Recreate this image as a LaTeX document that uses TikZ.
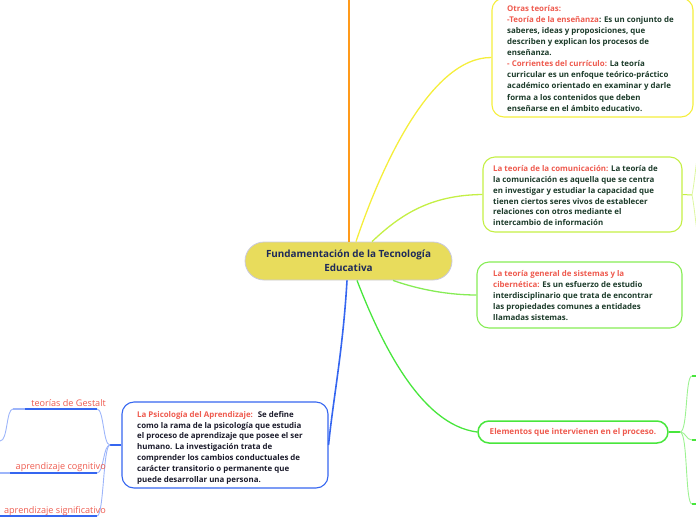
\documentclass[tikz,border=0pt]{standalone}
\usepackage{fontspec}
\setmainfont{Open Sans}
\definecolor{lab}{HTML}{EE5A4E}
\definecolor{bodyg}{HTML}{1C3B2A}
\definecolor{bodyk}{HTML}{1A1A2A}
\definecolor{ctext}{HTML}{1E2A5A}
\definecolor{cfill}{HTML}{E8DC5C}
\definecolor{cbord}{HTML}{C9C9DF}
\definecolor{corange}{HTML}{FF9A1A}
\definecolor{cyel}{HTML}{F5EE3C}
\definecolor{clime}{HTML}{C4EF45}
\definecolor{cgreen2}{HTML}{86EC55}
\definecolor{cgreen}{HTML}{48E63C}
\definecolor{cgreenl}{HTML}{9CF291}
\definecolor{cblue}{HTML}{3566F0}
\definecolor{cbluel}{HTML}{9DB5FA}
\definecolor{climel}{HTML}{DDF7A0}
\tikzset{
  bx/.style={rounded corners=12pt, line width=1.1pt, inner sep=0pt},
  body/.style={anchor=north west, inner sep=0pt, align=left, font=\bfseries\fontsize{7.9}{11.1}\selectfont, text=bodyg},
  lbl/.style={anchor=base east, inner sep=0pt, font=\fontsize{9.1}{10}\selectfont, text=lab},
  conn/.style={line width=1.3pt},
}
\begin{document}
\begin{tikzpicture}[x=1pt,y=-1pt]
\useasboundingbox (0,0) rectangle (696,520);
\clip (0,0) rectangle (696,520);

% central
\node[draw=cbord, fill=cfill, rounded corners=19pt, minimum width=207pt, minimum height=38pt, line width=0.8pt, align=center, inner sep=0pt, font=\bfseries\fontsize{9.9}{14}\selectfont, text=ctext] (central) at (348.5,261) {Fundamentación de la Tecnología\\Educativa};

% boxes
\node[bx, draw=cyel, minimum width=201pt, minimum height=119pt] (otras) at (592.5,57.5) {};
\node[bx, draw=clime, minimum width=199pt, minimum height=75pt] (comu) at (582.5,194.5) {};
\node[bx, draw=cgreen2, minimum width=205pt, minimum height=66pt] (sist) at (579.5,295) {};
\node[bx, draw=cgreen, rounded corners=11pt, minimum width=190pt, minimum height=22pt, line width=1.5pt, font=\bfseries\fontsize{8.1}{9}\selectfont, text=lab] (elem) at (573,432) {Elementos que intervienen en el proceso.};
\node[bx, draw=cblue, minimum width=206pt, minimum height=86pt] (psy) at (225,445) {};

% texts
\node[body] (otrasT) at (507,5) {\textcolor{lab}{Otras teorías:}\\
\textcolor{lab}{-Teoría de la enseñanza}: Es un conjunto de\\
saberes, ideas y proposiciones, que\\
describen y explican los procesos de\\
enseñanza.\\
\textcolor{lab}{- Corrientes del currículo:} La teoría\\
curricular es un enfoque teórico-práctico\\
académico orientado en examinar y darle\\
forma a los contenidos que deben\\
enseñarse en el ámbito educativo.};

\node[body, font=\bfseries\fontsize{7.9}{10.8}\selectfont] (comuT) at (493,165.5) {\textcolor{lab}{La teoría de la comunicación:} La teoría de\\
la comunicación es aquella que se centra\\
en investigar y estudiar la capacidad que\\
tienen ciertos seres vivos de establecer\\
relaciones con otros mediante el\\
intercambio de información};

\node[body, font=\bfseries\fontsize{7.9}{11}\selectfont] (sistT) at (493,270.5) {\textcolor{lab}{La teoría general de sistemas y la}\\
\textcolor{lab}{cibernética:} Es un esfuerzo de estudio\\
interdisciplinario que trata de encontrar\\
las propiedades comunes a entidades\\
llamadas sistemas.};

\node[body, text=bodyk, font=\bfseries\fontsize{7.9}{10.83}\selectfont] (psyT) at (137,411) {\textcolor{lab}{La Psicología del Aprendizaje:}~ Se define\\
como la rama de la psicología que estudia\\
el proceso de aprendizaje que posee el ser\\
humano. La investigación trata de\\
comprender los cambios conductuales de\\
carácter transitorio o permanente que\\
puede desarrollar una persona.};

% main connectors
\coordinate (otop) at (349,0);
\draw[corange, line width=2.2pt] ([xshift=0.5pt]central.north) -- (otop);
\draw[cyel, conn] ([xshift=7.5pt]central.north) .. controls (380,170) and (430,57) .. (otras.west);
\draw[clime, conn] ([xshift=23.5pt]central.north) .. controls (400,215) and (430,195) .. (comu.west);
\draw[cgreen2, conn] ([xshift=44.5pt]central.south) .. controls (420,290) and (450,295) .. (sist.west);
\draw[cgreen, conn] ([xshift=8.5pt]central.south) .. controls (380,340) and (420,425) .. (elem.west);
\draw[cblue, line width=1.6pt] ([xshift=-1.5pt]central.south) .. controls (343,350) and (333,400) .. (psy.east);

% right side of comunicacion
\coordinate (cj) at (692,195);
\coordinate (cu) at (700,140);
\coordinate (cd) at (700,250);
\draw[clime, line width=1pt] (comu.east) -- (cj);
\draw[climel, line width=0.8pt] (cj) .. controls (695,180) and (696,160) .. (cu);
\draw[climel, line width=0.8pt] (cj) .. controls (695,210) and (696,230) .. (cd);

% right side of elementos
\coordinate (ej) at (680,432);
\coordinate (e1) at (692,376);
\coordinate (e2) at (692,440);
\coordinate (e3) at (692,504);
\coordinate (e1b) at (697,376);
\coordinate (e2b) at (697,440);
\coordinate (e3b) at (697,504);
\draw[cgreen, line width=1.5pt] (elem.east) -- (ej);
\draw[cgreenl, line width=0.9pt] (ej) .. controls (688,432) and (685,376) .. (e1);
\draw[cgreenl, line width=0.9pt] (ej) .. controls (686,432) and (686,440) .. (e2);
\draw[cgreenl, line width=0.9pt] (ej) .. controls (688,432) and (685,504) .. (e3);
\draw[cgreen, line width=1.6pt] (e1) -- (e1b);
\draw[cgreen, line width=1.6pt] (e2) -- (e2b);
\draw[cgreen, line width=1.6pt] (e3) -- (e3b);

% left side of psicologia
\coordinate (pj) at (110,445);
\coordinate (g1) at (97,409);
\coordinate (g2) at (25,409);
\coordinate (g3) at (13,409);
\coordinate (g4) at (0,441);
\coordinate (k1) at (97,473);
\coordinate (k2) at (10,473);
\coordinate (k3) at (0,473);
\coordinate (s1) at (97,516);
\coordinate (s2) at (0,516);
\draw[cblue, line width=1.2pt] (psy.west) -- (pj);
\draw[cbluel, line width=0.9pt] (pj) .. controls (103,445) and (104,409) .. (g1);
\draw[cbluel, line width=0.9pt] (pj) .. controls (103,445) and (104,473) .. (k1);
\draw[cbluel, line width=0.9pt] (pj) .. controls (103,445) and (104,516) .. (s1);
\draw[cblue, line width=1.6pt] (g1) -- (g2);
\draw[cbluel, line width=1.6pt] (g2) -- (g3);
\draw[cbluel, line width=0.9pt] (g3) .. controls (6,409) and (8,441) .. (g4);
\draw[cblue, line width=1.6pt] (k1) -- (k2);
\draw[cbluel, line width=1.6pt] (k2) -- (k3);
\draw[cblue, line width=1.6pt] (s1) -- (s2);

\node[lbl] (gest) at (106,406) {teorías de Gestalt};
\node[lbl] (cogn) at (106,469.5) {aprendizaje cognitivo};
\node[lbl] (sign) at (106,513) {aprendizaje significativo};
\end{tikzpicture}
\end{document}
